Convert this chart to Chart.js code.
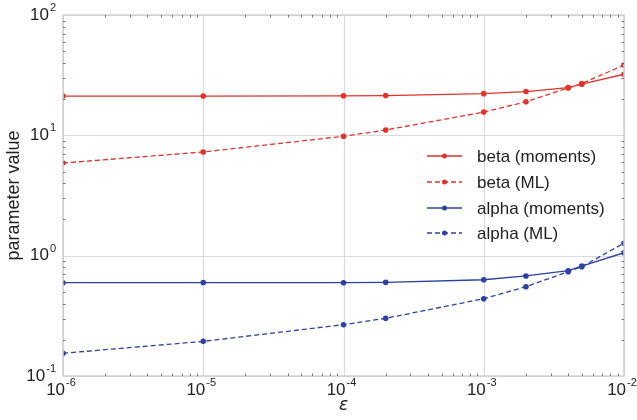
<!DOCTYPE html>
<html>
<head>
<meta charset="utf-8">
<script src="https://cdn.jsdelivr.net/npm/chart.js@4/dist/chart.umd.min.js"></script>
<style>
  html, body { margin: 0; padding: 0; background: #fff; }
  #wrap { width: 637px; height: 420px; }
</style>
</head>
<body>
<div id="wrap"><canvas id="c" width="637" height="420"></canvas></div>
<script>
// epsilon values at which the estimators were evaluated
const epsilon = [1e-6, 1e-5, 1e-4, 2e-4, 1e-3, 2e-3, 4e-3, 5e-3, 1e-2];

// beta estimates
const betaMoments = [21.2, 21.2, 21.3, 21.4, 22.2, 23.1, 24.9, 26.6, 32.2];
const betaML      = [5.89, 7.27, 9.82, 11.07, 15.6, 19.0, 24.8, 26.9, 38.4];

// alpha estimates
const alphaMoments = [0.596, 0.598, 0.596, 0.600, 0.631, 0.678, 0.750, 0.820, 1.058];
const alphaML      = [0.1545, 0.194, 0.267, 0.3016, 0.439, 0.552, 0.735, 0.81, 1.27];

// axis decades
const xDecades = [-6, -5, -4, -3, -2];
const yDecades = [-1, 0, 1, 2];

const seriesLabels = ['beta (moments)', 'beta (ML)', 'alpha (moments)', 'alpha (ML)'];

const RED = '#e2332b';
const BLUE = '#2d40a3';
const GRID = '#dadada';
const TICK = '#555555';
const FONT = '"Liberation Sans", Arial, Helvetica, sans-serif';

function series(values) {
  return epsilon.map((x, i) => ({ x: x, y: values[i] }));
}

function makeDataset(label, values, color, dashed) {
  return {
    label: label,
    data: series(values),
    borderColor: color,
    backgroundColor: color,
    pointBackgroundColor: color,
    pointBorderColor: color,
    borderWidth: 1.3,
    borderDash: dashed ? [5, 3] : [],
    pointRadius: 2.8,
    pointBorderWidth: 0,
    pointHoverRadius: 2.8,
    tension: 0,
    fill: false
  };
}

// draws "10" with a raised exponent
function drawPower(ctx, exp, x, y, align) {
  const base = '10';
  const sup = String(exp).replace('-', '-');
  ctx.font = '17px ' + FONT;
  const wb = ctx.measureText(base).width;
  ctx.font = '11px ' + FONT;
  const ws = ctx.measureText(sup).width;
  const total = wb + ws + 1;
  let left;
  if (align === 'right') left = x - total;
  else left = x - total / 2;
  ctx.fillStyle = '#222';
  ctx.textBaseline = 'middle';
  ctx.textAlign = 'left';
  ctx.font = '17px ' + FONT;
  ctx.fillText(base, left, y);
  ctx.font = '11px ' + FONT;
  ctx.fillText(sup, left + wb + 1, y - 7);
}

const decorPlugin = {
  id: 'decor',
  beforeDatasetsDraw(chart) {
    const { ctx, chartArea: a, scales } = chart;
    const xs = scales.x, ys = scales.y;
    ctx.save();
    // decade grid lines
    ctx.strokeStyle = GRID;
    ctx.lineWidth = 1.2;
    ctx.beginPath();
    xDecades.forEach(e => {
      const px = Math.round(xs.getPixelForValue(Math.pow(10, e))) + 0.5;
      ctx.moveTo(px, a.top); ctx.lineTo(px, a.bottom);
    });
    yDecades.forEach(e => {
      const py = Math.round(ys.getPixelForValue(Math.pow(10, e))) + 0.5;
      ctx.moveTo(a.left, py); ctx.lineTo(a.right, py);
    });
    ctx.stroke();
    ctx.restore();
  },
  afterDraw(chart) {
    const { ctx, chartArea: a, scales } = chart;
    const xs = scales.x, ys = scales.y;
    ctx.save();

    // frame
    ctx.strokeStyle = '#cfcfcf';
    ctx.lineWidth = 1.5;
    ctx.strokeRect(a.left, a.top, a.right - a.left, a.bottom - a.top);

    // inward minor ticks on all four sides
    ctx.strokeStyle = TICK;
    ctx.lineWidth = 0.8;
    ctx.beginPath();
    for (let e = xDecades[0]; e < xDecades[xDecades.length - 1]; e++) {
      for (let m = 2; m <= 9; m++) {
        const px = Math.round(xs.getPixelForValue(m * Math.pow(10, e))) + 0.5;
        ctx.moveTo(px, a.bottom); ctx.lineTo(px, a.bottom - 2.5);
        ctx.moveTo(px, a.top); ctx.lineTo(px, a.top + 2.5);
      }
    }
    for (let e = yDecades[0]; e < yDecades[yDecades.length - 1]; e++) {
      for (let m = 2; m <= 9; m++) {
        const py = Math.round(ys.getPixelForValue(m * Math.pow(10, e))) + 0.5;
        ctx.moveTo(a.left, py); ctx.lineTo(a.left + 2.5, py);
        ctx.moveTo(a.right, py); ctx.lineTo(a.right - 2.5, py);
      }
    }
    ctx.stroke();

    // tick labels
    xDecades.forEach(e => {
      const px = xs.getPixelForValue(Math.pow(10, e));
      drawPower(ctx, e, px - 2, a.bottom + 14, 'center');
    });
    yDecades.forEach(e => {
      const py = ys.getPixelForValue(Math.pow(10, e));
      drawPower(ctx, e, 56, py, 'right');
    });

    // axis titles
    ctx.fillStyle = '#222';
    ctx.textAlign = 'center';
    ctx.textBaseline = 'middle';
    ctx.font = 'italic 17px "DejaVu Sans", ' + FONT;
    ctx.fillText('\u03B5', (a.left + a.right) / 2, 406);
    ctx.save();
    ctx.translate(14, (a.top + a.bottom) / 2);
    ctx.rotate(-Math.PI / 2);
    ctx.font = '18px ' + FONT;
    ctx.fillText('parameter value', 0, 0);
    ctx.restore();

    // legend
    const lx0 = 427, lx1 = 462, tx = 477;
    const rows = [156, 182, 208, 233];
    chart.data.datasets.forEach((ds, i) => {
      const y = rows[i];
      ctx.strokeStyle = ds.borderColor;
      ctx.lineWidth = ds.borderWidth;
      ctx.setLineDash(ds.borderDash);
      ctx.beginPath();
      ctx.moveTo(lx0, y); ctx.lineTo(lx1, y);
      ctx.stroke();
      ctx.setLineDash([]);
      ctx.fillStyle = ds.borderColor;
      ctx.beginPath();
      ctx.arc((lx0 + lx1) / 2, y, 2.5, 0, Math.PI * 2);
      ctx.fill();
      ctx.fillStyle = '#222';
      ctx.font = '17px ' + FONT;
      ctx.textAlign = 'left';
      ctx.textBaseline = 'middle';
      ctx.fillText(ds.label, tx, y + 1);
    });

    ctx.restore();
  }
};

new Chart(document.getElementById('c'), {
  type: 'line',
  data: {
    datasets: [
      makeDataset(seriesLabels[0], betaMoments, RED, false),
      makeDataset(seriesLabels[1], betaML, RED, true),
      makeDataset(seriesLabels[2], alphaMoments, BLUE, false),
      makeDataset(seriesLabels[3], alphaML, BLUE, true)
    ]
  },
  options: {
    responsive: false,
    animation: false,
    events: [],
    layout: { padding: { left: 63, right: 13, top: 15, bottom: 44 } },
    plugins: { legend: { display: false }, tooltip: { enabled: false } },
    scales: {
      x: {
        type: 'logarithmic',
        min: Math.pow(10, xDecades[0]),
        max: Math.pow(10, xDecades[xDecades.length - 1]),
        grid: { display: false, drawTicks: false },
        border: { display: false },
        ticks: { display: false }
      },
      y: {
        type: 'logarithmic',
        min: Math.pow(10, yDecades[0]),
        max: Math.pow(10, yDecades[yDecades.length - 1]),
        grid: { display: false, drawTicks: false },
        border: { display: false },
        ticks: { display: false }
      }
    }
  },
  plugins: [decorPlugin]
});
</script>
</body>
</html>
